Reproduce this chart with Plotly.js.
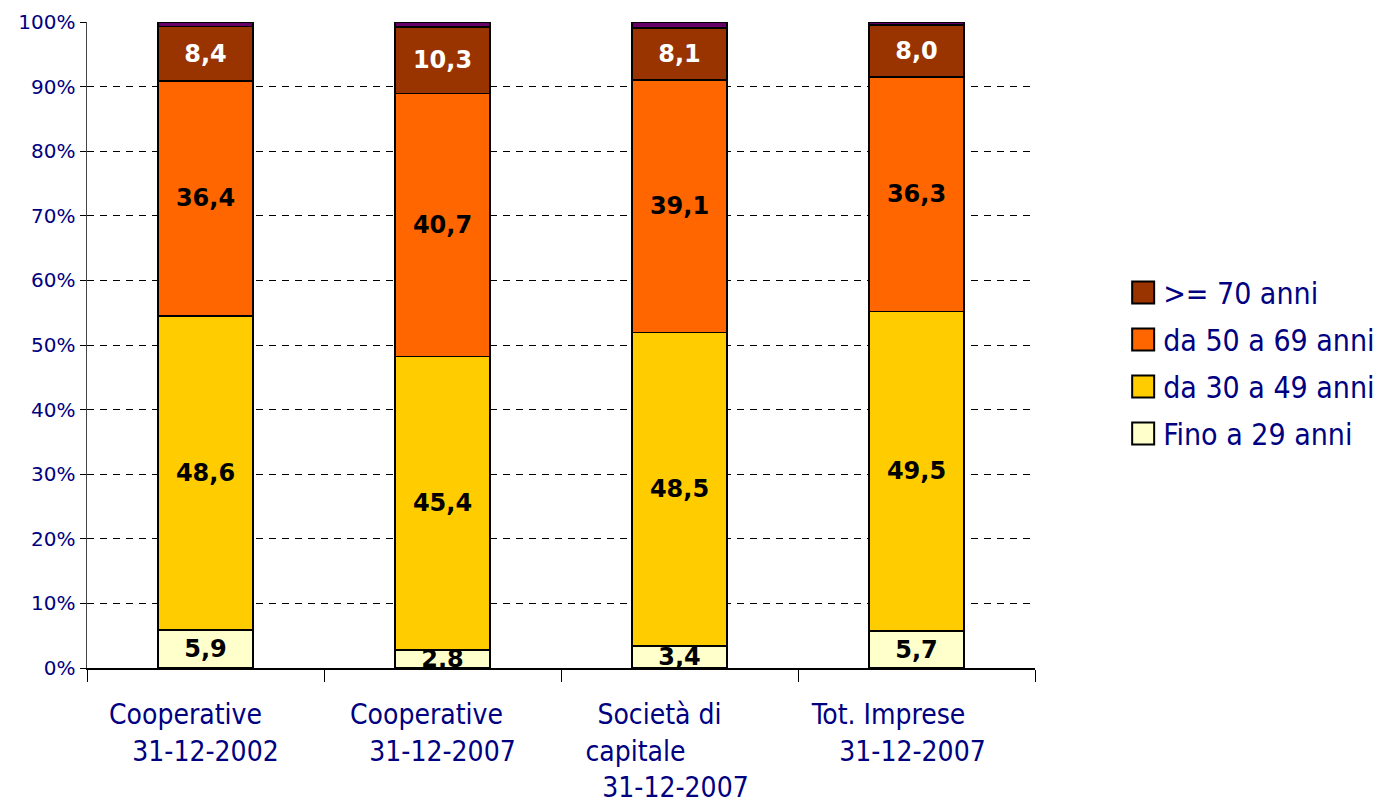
<!DOCTYPE html>
<html>
<head>
<meta charset="utf-8">
<script src="https://cdn.plot.ly/plotly-3.0.1.min.js"></script>
<style>html,body{margin:0;padding:0;background:#fff;}#chart{width:1386px;height:804px;}</style>
</head>
<body>
<div id="chart"></div>
<script>
const categories = ["Cooperative 31-12-2002", "Cooperative 31-12-2007", "Società di capitale 31-12-2007", "Tot. Imprese 31-12-2007"];
const NB = n => "\u00A0".repeat(n);
const tickLabels = [
  "Cooperative" + NB(5) + "<br>31-12-2002",
  "Cooperative" + NB(4) + "<br>31-12-2007",
  "Società di" + NB(5) + "<br>capitale" + NB(11) + "<br>31-12-2007" + NB(1),
  "Tot. Imprese" + NB(7) + "<br>31-12-2007" + NB(1)
];
const fino29 = [5.9, 2.8, 3.4, 5.7];
const da30a49 = [48.6, 45.4, 48.5, 49.5];
const da50a69 = [36.4, 40.7, 39.1, 36.3];
const oltre70 = [8.4, 10.3, 8.1, 8.0];
const altro = [0.7, 0.8, 0.9, 0.5];

const seriesNames = ["Fino a 29 anni", "da 30 a 49 anni", "da 50 a 69 anni", ">= 70 anni"];
const fmt = v => v.toFixed(1).replace('.', ',');

function barTrace(name, vals, color, textColor, showText, showLegend, rank) {
  return {
    type: 'bar', x: categories, y: vals, name: name,
    legendgroup: name, showlegend: showLegend, legendrank: rank,
    marker: {color: color, line: {color: '#000', width: 1.5}},
    width: 0.4,
    text: showText ? vals.map(fmt) : undefined,
    textposition: showText ? 'inside' : 'none',
    insidetextanchor: 'middle',
    textangle: 0,
    constraintext: 'none',
    insidetextfont: {family: 'Verdana, "DejaVu Sans", sans-serif', size: 24, color: textColor, weight: 'bold'},
    hoverinfo: 'none'
  };
}

const data = [
  barTrace(seriesNames[0], fino29, '#FFFFCC', '#000', true, true, 4),
  barTrace(seriesNames[1], da30a49, '#FFCC00', '#000', true, true, 3),
  barTrace(seriesNames[2], da50a69, '#FF6600', '#000', true, true, 2),
  barTrace(seriesNames[3], oltre70, '#993300', '#fff', true, true, 1),
  barTrace('altro', altro, '#660066', '#fff', false, false, 5)
];

const condensed = '"DejaVu Sans Condensed", Tahoma, "DejaVu Sans", sans-serif';

const layout = {
  width: 1386, height: 804,
  margin: {l: 87, r: 351, t: 22, b: 136, autoexpand: false},
  paper_bgcolor: '#fff', plot_bgcolor: '#fff',
  barmode: 'stack',
  uniformtext: {mode: 'show', minsize: 24},
  showlegend: true,
  legend: {
    x: 1.093, xanchor: 'left', y: 0.472, yanchor: 'middle',
    traceorder: 'grouped', tracegroupgap: 5,
    font: {family: condensed, size: 30, color: '#000080'},
    itemwidth: 30, bgcolor: 'rgba(0,0,0,0)'
  },
  xaxis: {
    type: 'category', tickmode: 'array', tickvals: categories, ticktext: tickLabels,
    tickson: 'boundaries', ticks: 'outside', ticklen: 12, tickcolor: '#000', tickwidth: 1,
    showline: true, linecolor: '#000', linewidth: 1.5, showgrid: false,
    ticklabelstandoff: 21,
    tickfont: {family: condensed, size: 28, color: '#000080'}
  },
  yaxis: {
    range: [0, 100], tickvals: [0,10,20,30,40,50,60,70,80,90,100],
    ticktext: ['0%','10%','20%','30%','40%','50%','60%','70%','80%','90%','100%'],
    ticks: 'outside', ticklen: 6, tickcolor: '#000',
    showline: true, linecolor: '#444', linewidth: 1.5,
    showgrid: true, gridcolor: '#000', gridwidth: 1, griddash: '7px,6px',
    zeroline: false,
    tickfont: {family: 'Verdana, "DejaVu Sans", sans-serif', size: 20, color: '#000080'}
  }
};

Plotly.newPlot('chart', data, layout, {displayModeBar: false, staticPlot: true}).then(gd => {
  gd.querySelectorAll('.legend .legendpoints path').forEach(p => {
    p.setAttribute('d', 'M11,11H-11V-11H11Z');
    p.style.strokeWidth = '2px';
  });
});
</script>
</body>
</html>
